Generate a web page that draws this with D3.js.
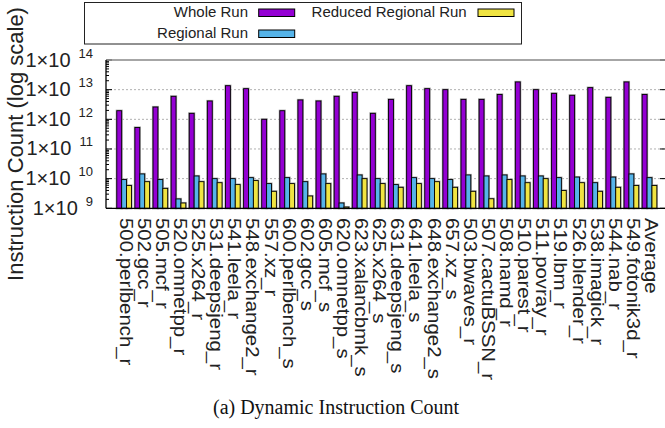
<!DOCTYPE html>
<html><head><meta charset="utf-8">
<script src="https://cdn.jsdelivr.net/npm/d3@7"></script>
<style>body{margin:0;background:#fff}svg{display:block}</style>
</head><body>
<svg id="c" width="665" height="428"></svg>
<script>
const categories = ["500.perlbench_r","502.gcc_r","505.mcf_r","520.omnetpp_r","525.x264_r","531.deepsjeng_r","541.leela_r","548.exchange2_r","557.xz_r","600.perlbench_s","602.gcc_s","605.mcf_s","620.omnetpp_s","623.xalancbmk_s","625.x264_s","631.deepsjeng_s","641.leela_s","648.exchange2_s","657.xz_s","503.bwaves_r","507.cactuBSSN_r","508.namd_r","510.parest_r","511.povray_r","519.lbm_r","526.blender_r","538.imagick_r","544.nab_r","549.fotonik3d_r","Average"];
const wholeRun = [1.95e12,5.3e11,2.6e12,5.96e12,1.59e12,4.15e12,1.36e13,1.08e13,1.0e12,1.95e12,4.5e12,4.15e12,5.96e12,8.1e12,1.59e12,4.7e12,1.36e13,1.08e13,1.0e13,4.7e12,4.7e12,6.9e12,1.82e13,1.0e13,7.5e12,6.45e12,1.17e13,5.5e12,1.82e13,6.9e12];
const regionalRun = [9.3e9,1.44e10,9.3e9,2.07e9,1.23e10,1.0e10,1.0e10,1.08e10,6.8e9,1.08e10,7.9e9,1.44e10,1.51e9,1.33e10,1.0e10,6.3e9,1.08e10,1.0e10,9.3e9,1.33e10,1.23e10,1.33e10,1.23e10,1.23e10,1.08e10,1.13e10,7.3e9,1.13e10,1.44e10,1.08e10];
const reducedRegionalRun = [5.9e9,7.9e9,4.7e9,1.51e9,7.9e9,7.3e9,6.3e9,8.6e9,3.74e9,6.8e9,2.6e9,6.8e9,1.1e9,1.0e10,6.8e9,5.1e9,6.8e9,7.9e9,5.1e9,3.74e9,2.1e9,9.3e9,7.3e9,1.0e10,4.0e9,7.3e9,3.74e9,5.1e9,5.9e9,5.9e9];
const seriesNames = ["Whole Run","Regional Run","Reduced Regional Run"];
const seriesColors = ["#9400D3","#56B4E9","#F0E442"];
const tickValues = [1e9,1e10,1e11,1e12,1e13,1e14];
const tickExponents = ["9","10","11","12","13","14"];
const yTitle = "Instruction Count (log scale)";
const caption = "(a) Dynamic Instruction Count";

const series = [wholeRun, regionalRun, reducedRegionalRun];
const svg = d3.select("#c");
const L = 106, R = 664, T = 60, B = 208.3;
const x = d3.scaleLinear().domain([-1, 29.8]).range([L, R]);
const y = d3.scaleLog().domain([1e9, 1e14]).range([B, T]);
const bw = 0.27;

// grid
svg.append("g").selectAll("line").data(tickValues.slice(1, 5)).join("line")
  .attr("x1", L).attr("x2", R + 1).attr("y1", d => y(d)).attr("y2", d => y(d))
  .attr("stroke", "#b0b0b0").attr("stroke-width", 1).attr("stroke-dasharray", "2,2");

// minor ticks
const minor = [];
for (let e = 9; e < 14; e++) for (let m = 2; m <= 9; m++) minor.push(m * Math.pow(10, e));
svg.append("g").selectAll("line").data(minor).join("line")
  .attr("x1", L).attr("x2", L + 3).attr("y1", d => y(d)).attr("y2", d => y(d))
  .attr("stroke", "#000").attr("stroke-width", 1);
svg.append("g").selectAll("line").data(tickValues).join("line")
  .attr("x1", L).attr("x2", L + 6).attr("y1", d => y(d)).attr("y2", d => y(d))
  .attr("stroke", "#000").attr("stroke-width", 1);
svg.append("g").selectAll("line").data(tickValues).join("line")
  .attr("x1", R - 4).attr("x2", R + 1).attr("y1", d => y(d)).attr("y2", d => y(d))
  .attr("stroke", "#000").attr("stroke-width", 1);

// bars (gray halo then black outline)
const gBars = svg.append("g");
series.forEach((s, si) => {
  gBars.selectAll(null).data(s).join("rect")
    .attr("x", (d, i) => x(i + (si - 1.5) * bw))
    .attr("width", x(bw) - x(0))
    .attr("y", d => y(d))
    .attr("height", d => B - y(d))
    .attr("fill", "none")
    .attr("stroke", "#a8a8a8").attr("stroke-width", 2.2);
});
series.forEach((s, si) => {
  gBars.selectAll(null).data(s).join("rect")
    .attr("x", (d, i) => x(i + (si - 1.5) * bw))
    .attr("width", x(bw) - x(0))
    .attr("y", d => y(d))
    .attr("height", d => B - y(d))
    .attr("fill", seriesColors[si])
    .attr("stroke", "#000").attr("stroke-width", 0.9);
});

// frame
svg.append("line").attr("x1", L).attr("x2", R + 2).attr("y1", T).attr("y2", T).attr("stroke", "#888").attr("stroke-width", 1.5);
svg.append("line").attr("x1", L).attr("x2", R + 2).attr("y1", B).attr("y2", B).attr("stroke", "#000").attr("stroke-width", 1.3);
svg.append("line").attr("x1", L).attr("x2", L).attr("y1", T).attr("y2", B).attr("stroke", "#000").attr("stroke-width", 1.3);

// y tick labels
const yl = svg.append("g").attr("font-family", "Liberation Sans, Arial, sans-serif").attr("fill", "#222");
tickValues.forEach((v, i) => {
  const t = yl.append("text").attr("x", 93).attr("y", y(v) + 6.5).attr("text-anchor", "end").attr("font-size", 20);
  t.append("tspan").text("1×10");
  t.append("tspan").attr("dx", 8).attr("dy", -9).attr("font-size", 13).text(tickExponents[i]);
});

// y title
svg.append("text").attr("transform", "translate(23,144) rotate(-90)").attr("text-anchor", "middle")
  .attr("font-family", "Liberation Sans, Arial, sans-serif").attr("font-size", 22).attr("fill", "#222").text(yTitle);

// x labels
svg.append("g").selectAll("text").data(categories).join("text")
  .attr("transform", (d, i) => `translate(${x(i) - 4.5},218) rotate(90) scale(1.02,0.88)`)
  .attr("font-family", "Liberation Sans, Arial, sans-serif").attr("font-size", 20).attr("fill", "#222")
  .text(d => d);

// caption
svg.append("text").attr("x", 336).attr("y", 414).attr("text-anchor", "middle")
  .attr("font-family", "Liberation Serif, Times New Roman, serif").attr("font-size", 20).attr("fill", "#111").text(caption);

// legend
const lg = svg.append("g");
lg.append("rect").attr("x", 84.5).attr("y", 2.5).attr("width", 437).attr("height", 41.5).attr("fill", "#fff").attr("stroke", "#222").attr("stroke-width", 1);
const legPos = [{tx: 248, sx: 258.7, sy: 9, ty: 17}, {tx: 248, sx: 258.7, sy: 30, ty: 38}, {tx: 466.7, sx: 478, sy: 9, ty: 17}];
seriesNames.forEach((n, i) => {
  const p = legPos[i];
  lg.append("text").attr("x", p.tx).attr("y", p.ty).attr("text-anchor", "end")
    .attr("font-family", "Liberation Sans, Arial, sans-serif").attr("font-size", 15).attr("fill", "#222").text(n);
  lg.append("rect").attr("x", p.sx).attr("y", p.sy).attr("width", 36).attr("height", 7.5)
    .attr("fill", seriesColors[i]).attr("stroke", "#000").attr("stroke-width", 1);
});
</script>
</body></html>
